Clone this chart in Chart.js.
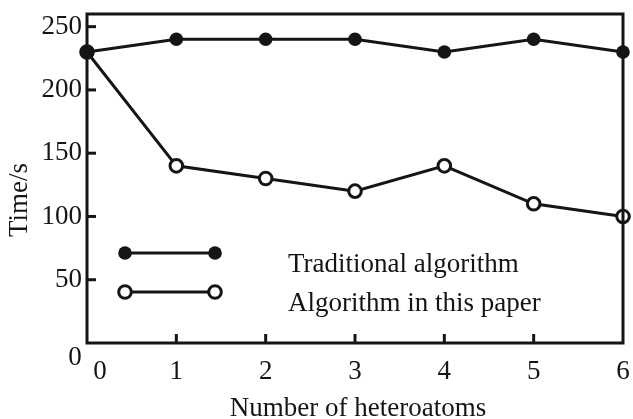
<!DOCTYPE html>
<html>
<head>
<meta charset="utf-8">
<script src="https://cdn.jsdelivr.net/npm/chart.js@4/dist/chart.umd.min.js"></script>
<style>
  html, body { margin: 0; padding: 0; background: #fff; }
  #wrap { width: 633px; height: 419px; }
</style>
</head>
<body>
<div id="wrap"><canvas id="plot" width="633" height="419"></canvas></div>
<script>
const xValues     = [0, 1, 2, 3, 4, 5, 6];
const traditional = [230, 240, 240, 240, 230, 240, 230];
const proposed    = [230, 140, 130, 120, 140, 110, 100];
const yTicks      = [50, 100, 150, 200, 250];
const xTicks      = [1, 2, 3, 4, 5, 6];
const seriesNames = ['Traditional algorithm', 'Algorithm in this paper'];
const xTitle = 'Number of heteroatoms';
const yTitle = 'Time/s';

const INK  = '#151515';
const FONT = '27px "Liberation Serif", "DejaVu Serif", serif';

const toPoints = ys => xValues.map((x, i) => ({ x, y: ys[i] }));

function marker(ctx, x, y, filled) {
  ctx.beginPath();
  ctx.arc(x, y, filled ? 6.8 : 6.3, 0, Math.PI * 2);
  ctx.fillStyle = filled ? INK : '#fff';
  ctx.fill();
  if (!filled) { ctx.lineWidth = 3; ctx.strokeStyle = INK; ctx.stroke(); }
}

// axes box, inward ticks, labels and the inner legend
const frame = {
  id: 'frame',
  afterDatasetsDraw(chart) {
    const { ctx, chartArea: a, scales: { x, y } } = chart;
    ctx.save();
    ctx.strokeStyle = INK;
    ctx.fillStyle = INK;
    ctx.lineWidth = 3;
    ctx.strokeRect(a.left, a.top, a.right - a.left, a.bottom - a.top);

    ctx.font = FONT;
    ctx.textBaseline = 'middle';
    ctx.textAlign = 'right';
    yTicks.forEach(v => {
      const py = y.getPixelForValue(v);
      ctx.beginPath(); ctx.moveTo(a.left, py); ctx.lineTo(a.left + 9, py); ctx.stroke();
      ctx.fillText(String(v), a.left - 5, py);
    });
    ctx.textAlign = 'center';
    ctx.fillText('0', a.left - 12, a.bottom + 15);

    xTicks.forEach(v => {
      const px = x.getPixelForValue(v);
      if (v < x.max) {
        ctx.beginPath(); ctx.moveTo(px, a.bottom); ctx.lineTo(px, a.bottom - 9); ctx.stroke();
      }
      ctx.fillText(String(v), px, a.bottom + 29);
    });
    ctx.fillText('0', a.left + 13, a.bottom + 29);

    ctx.fillText(xTitle, (a.left + a.right) / 2 + 3, a.bottom + 66);
    ctx.save();
    ctx.translate(20, 200);
    ctx.rotate(-Math.PI / 2);
    ctx.fillText(yTitle, 0, 0);
    ctx.restore();

    // legend
    ctx.textAlign = 'left';
    ctx.textBaseline = 'alphabetic';
    [[253, true], [292, false]].forEach(([ly, filled], i) => {
      const x0 = a.left + 38, x1 = a.left + 128;
      ctx.lineWidth = 3;
      ctx.beginPath(); ctx.moveTo(x0, ly); ctx.lineTo(x1, ly); ctx.stroke();
      marker(ctx, x0, ly, filled);
      marker(ctx, x1, ly, filled);
      ctx.fillStyle = INK;
      ctx.fillText(seriesNames[i], a.left + 201, ly + 19);
    });
    ctx.restore();
  }
};

new Chart(document.getElementById('plot'), {
  type: 'line',
  data: {
    datasets: [
      { label: seriesNames[0], data: toPoints(traditional),
        borderColor: INK, borderWidth: 3, pointRadius: 6.8,
        pointBackgroundColor: INK, pointBorderColor: INK, pointBorderWidth: 0,
        clip: false },
      { label: seriesNames[1], data: toPoints(proposed),
        borderColor: INK, borderWidth: 3, pointRadius: 6.3,
        pointBackgroundColor: '#fff', pointBorderColor: INK, pointBorderWidth: 3,
        clip: false },
    ]
  },
  options: {
    responsive: false,
    animation: false,
    layout: { padding: { left: 87, right: 10, top: 14, bottom: 76 } },
    plugins: { legend: { display: false }, tooltip: { enabled: false } },
    scales: {
      x: { type: 'linear', min: 0, max: 6,
           ticks: { display: false }, grid: { display: false, drawTicks: false },
           border: { display: false } },
      y: { min: 0, max: 260,
           ticks: { display: false }, grid: { display: false, drawTicks: false },
           border: { display: false } }
    }
  },
  plugins: [frame]
});
</script>
</body>
</html>
